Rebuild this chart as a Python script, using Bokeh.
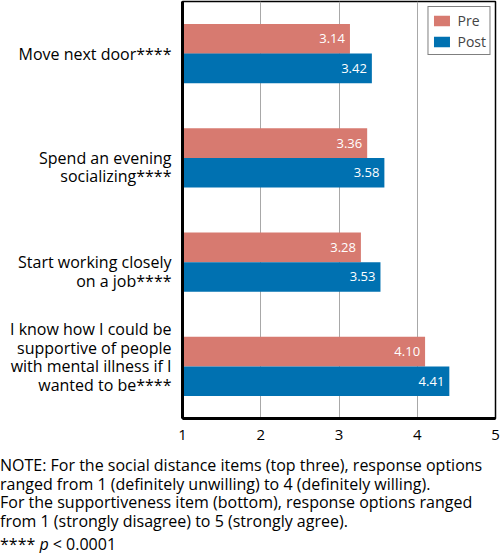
from bokeh.plotting import figure
from bokeh.layouts import column
from bokeh.models import ColumnDataSource, FactorRange, Range1d, Legend, LegendItem, Div
from bokeh.transform import dodge
from bokeh.core.properties import value
from bokeh.embed import file_html
from bokeh.resources import INLINE

categories = [
    "Move next door****",
    "Spend an evening\nsocializing****",
    "Start working closely\non a job****",
    "I know how I could be\nsupportive of people\nwith mental illness if I\nwanted to be****",
]
pre_values = [3.14, 3.36, 3.28, 4.10]
post_values = [3.42, 3.58, 3.53, 4.41]
x_ticks = [1, 2, 3, 4, 5]
note_lines = [
    "NOTE: For the social distance items (top three), response options",
    "ranged from 1 (definitely unwilling) to 4 (definitely willing).",
    "For the supportiveness item (bottom), response options ranged",
    "from 1 (strongly disagree) to 5 (strongly agree).",
]
sig_note = ("****", "p", "< 0.0001")

FONT = "Open Sans"
PRE_COLOR = "#d77a70"
POST_COLOR = "#0071b1"

# vertical nudges of the multi-line axis labels (blank line above / below), as in the original
label_pad = ["", "above", "above", "below"]
factors = [("\n" + c) if pad == "above" else (c + "\n") if pad == "below" else c
           for c, pad in zip(categories, label_pad)]

src = ColumnDataSource(dict(
    cat=factors,
    pre=pre_values,
    post=post_values,
    pre_lbl=[f"{v:.2f}" for v in pre_values],
    post_lbl=[f"{v:.2f}" for v in post_values],
))

W = 500
p = figure(
    width=W, height=450,
    y_range=FactorRange(factors=factors[::-1], range_padding=0),
    x_range=Range1d(1, 5),
    output_backend="svg", toolbar_location=None,
    min_border_left=182, min_border_right=5, min_border_top=1, min_border_bottom=32,
)

bh = 0.285
r_pre = p.hbar(y=dodge("cat", bh / 2, range=p.y_range), left=1, right="pre", height=bh,
               source=src, fill_color=PRE_COLOR, line_color=None)
r_post = p.hbar(y=dodge("cat", -bh / 2, range=p.y_range), left=1, right="post", height=bh,
                source=src, fill_color=POST_COLOR, line_color=None)

p.text(x="pre", y=dodge("cat", bh / 2, range=p.y_range), text="pre_lbl", source=src,
       x_offset=-5, text_align="right", text_baseline="middle", text_color="white",
       text_font=value(FONT), text_font_size="13px")
p.text(x="post", y=dodge("cat", -bh / 2, range=p.y_range), text="post_lbl", source=src,
       x_offset=-5, text_align="right", text_baseline="middle", text_color="white",
       text_font=value(FONT), text_font_size="13px")

# grid
p.ygrid.grid_line_color = None
p.xgrid.grid_line_color = "#a8a8a8"
p.xgrid.grid_line_width = 1
p.xgrid.ticker = x_ticks

# axes
p.xaxis.ticker = x_ticks
p.xaxis.axis_line_width = 3
p.xaxis.axis_line_color = "black"
p.xaxis.major_tick_line_color = None
p.xaxis.minor_tick_line_color = None
p.xaxis.major_label_text_font = FONT
p.xaxis.major_label_text_font_size = "15px"
p.xaxis.major_label_text_color = "black"
p.xaxis.major_label_standoff = 5

p.yaxis.axis_line_width = 3
p.yaxis.axis_line_color = "black"
p.yaxis.major_tick_line_color = None
p.yaxis.minor_tick_line_color = None
p.yaxis.major_label_text_font = FONT
p.yaxis.major_label_text_font_size = "16px"
p.yaxis.major_label_text_line_height = 0.84
p.yaxis.major_label_text_color = "black"
p.yaxis.major_label_standoff = 5

p.outline_line_color = "black"
p.outline_line_width = 1.5

legend = Legend(items=[LegendItem(label="Pre", renderers=[r_pre]),
                       LegendItem(label="Post", renderers=[r_post])],
                location="top_right")
legend.label_text_font = FONT
legend.label_text_font_size = "14px"
legend.glyph_width = 20
legend.glyph_height = 13
legend.label_standoff = 6
legend.spacing = 1
legend.padding = 3
legend.margin = 5
legend.border_line_color = "black"
legend.border_line_width = 1
legend.label_height = 20
p.add_layout(legend)

# notes below the chart
body = "<br>".join(note_lines)
html = (
    f'<div style="font-family:\'{FONT}\';font-size:16px;line-height:18.5px;'
    f'color:black;padding-top:6px;white-space:nowrap;">{body}'
    f'<div style="margin-top:4.5px;">{sig_note[0]} <i>{sig_note[1]}</i> {sig_note[2]}</div></div>'
)
notes = Div(text=html, width=W, height=103, margin=(0, 0, 0, 0))

layout = column(p, notes, spacing=0)
open("out.html", "w").write(file_html(layout, INLINE))
